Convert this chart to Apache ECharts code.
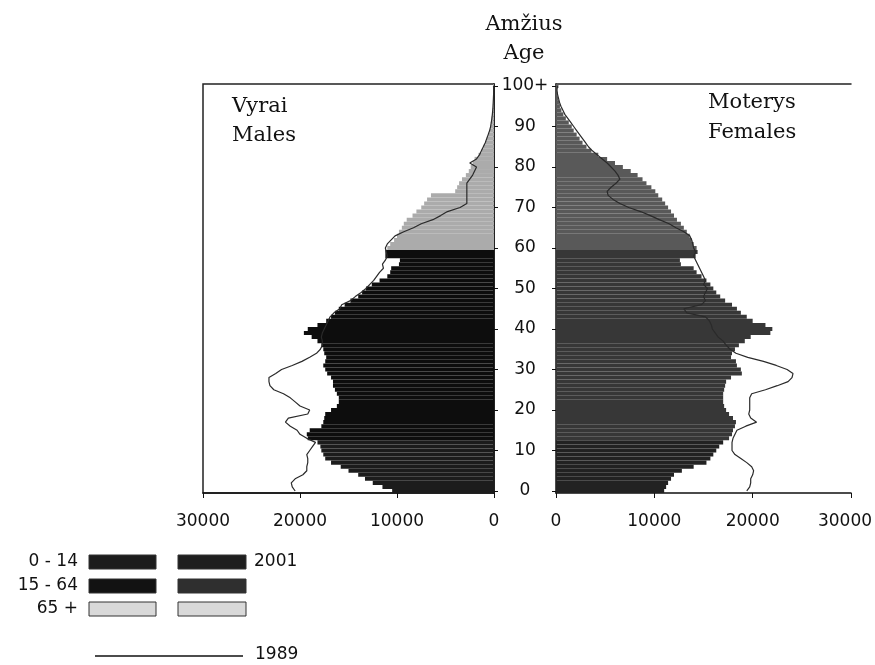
<!DOCTYPE html>
<html>
<head>
<meta charset="utf-8">
<script src="https://cdn.jsdelivr.net/npm/echarts@6/dist/echarts.min.js"></script>
<style>
html,body{margin:0;padding:0;background:#fff;}
#chart{width:875px;height:665px;}
</style>
</head>
<body>
<div id="chart"></div>
<script>
// ---- data ----
const ages = Array.from({length: 101}, (_, i) => i === 100 ? '100+' : String(i));
const tickLabels = ['0','10','20','30','40','50','60','70','80','90','100+'];
const xTicks = [0, 10000, 20000, 30000];
const groupNames = ['0 - 14', '15 - 64', '65 +'];
// first age index of the 2nd and 3rd colour groups as drawn in the picture
const groupStarts = [0, 13, 60];

const male2001 = [
 10500,11500,12500,13300,14000,15000,15800,16800,17400,17600,
 17800,17900,18200,19200,19300,19000,17800,17600,17500,17400,
 16800,16200,16000,16000,16200,16400,16600,16600,16800,17200,
 17400,17600,17400,17300,17500,17600,17800,18200,18800,19600,
 19200,18200,17300,16800,16400,16000,15400,14800,14000,13600,
 13200,12600,11800,11000,10700,10600,9800,9700,11200,11200,
 11000,10700,10300,10000,9800,9500,9300,9000,8400,8000,
 7500,7200,6900,6500,4000,3800,3600,3300,2900,2600,
 2400,2200,2000,1600,1300,1100,900,750,600,450,
 350,300,250,200,160,120,90,70,50,40,
 80
];
const female2001 = [
 11000,11200,11400,11700,12000,12800,14000,15300,15700,16000,
 16300,16600,17000,17600,17900,18000,18200,18300,18000,17600,
 17300,17100,17000,17000,17000,17100,17200,17300,17800,18900,
 18800,18400,18300,17800,17900,18200,18600,19200,19800,21800,
 22000,21300,20000,19400,18800,18400,17900,17200,16700,16300,
 16000,15700,15300,14800,14300,14000,12700,12600,14200,14400,
 14300,14000,13800,13600,13300,13000,12700,12300,12000,11700,
 11400,11100,10800,10400,10100,9700,9200,8800,8300,7600,
 6800,6000,5200,4300,3600,3100,2700,2400,2100,1800,
 1600,1300,1000,750,550,400,300,200,150,100,
 250
];
const male1989 = [
 20500,20800,20900,20500,19700,19300,19300,19200,19200,19300,
 19000,18700,18400,19300,20000,20300,21000,21500,21200,19200,
 19000,20000,20500,21000,21700,22700,23100,23200,23200,22500,
 21900,20800,19800,19000,18300,17900,17700,17700,17800,17700,
 17500,17300,17100,16900,16500,15900,15700,14800,14300,13700,
 13200,12800,12400,12100,11800,11400,11500,11200,11000,11100,
 11200,11000,10600,10200,9300,8300,7500,6300,5500,4800,
 3500,2800,2800,2800,2800,2800,2800,2500,2200,2000,
 1800,2500,1800,1500,1300,1100,900,750,600,450,
 350,280,220,170,130,100,80,60,40,30,
 50
];
const female1989 = [
 19400,19700,19800,19800,20000,20100,19900,19400,18800,18200,
 17900,17900,17900,18000,18200,18400,19300,20400,19800,19600,
 19700,19700,19700,19700,19900,21300,22500,23600,24000,24100,
 23500,22400,21100,19500,18300,17700,17300,17000,16500,16200,
 15900,15800,15600,15200,13300,13000,14800,15200,15000,15200,
 15400,15000,15200,15000,14800,14600,14400,14200,14000,14200,
 14000,13900,13800,13600,13000,12200,11500,10500,9600,8600,
 7400,6500,5800,5300,5200,5600,6100,6500,6300,6000,
 5600,5200,4700,4200,3700,3300,3000,2700,2400,2100,
 1800,1500,1200,900,700,500,350,250,150,100,
 150
];

// ---- styles ----
const maleColors = ['#1c1c1c', '#0d0d0d', '#ababab'];
const femaleColors = ['#222222', '#373737', '#595959'];
const legendMale = ['#1c1c1c', '#121212', '#d9d9d9'];
const legendFemale = ['#1e1e1e', '#2f2f2f', '#d9d9d9'];
const sans = 'DejaVu Sans';
const serif = 'DejaVu Serif';

function groupOf(i) {
  let g = 0;
  for (let k = 0; k < groupStarts.length; k++) if (i >= groupStarts[k]) g = k;
  return g;
}
function part(arr, g) {
  return arr.map((v, i) => groupOf(i) === g ? v : '-');
}
const isTick = (i) => i % 10 === 0;

const chart = echarts.init(document.getElementById('chart'), null, {renderer: 'canvas'});

const series = [];
for (let g = 0; g < 3; g++) {
  series.push({
    type: 'bar', name: 'm' + g, xAxisIndex: 0, yAxisIndex: 0, stack: 'male',
    barCategoryGap: '0%', data: part(male2001, g),
    itemStyle: {color: maleColors[g]}, silent: true, animation: false
  });
  series.push({
    type: 'bar', name: 'f' + g, xAxisIndex: 1, yAxisIndex: 1, stack: 'female',
    barCategoryGap: '0%', data: part(female2001, g),
    itemStyle: {color: femaleColors[g]}, silent: true, animation: false
  });
}
series.push({
  type: 'line', name: 'm1989', xAxisIndex: 0, yAxisIndex: 0, data: male1989,
  symbol: 'none', lineStyle: {color: '#2a2a2a', width: 1.2}, z: 5, animation: false
});
series.push({
  type: 'line', name: 'f1989', xAxisIndex: 1, yAxisIndex: 1, data: female1989,
  symbol: 'none', lineStyle: {color: '#2a2a2a', width: 1.2}, z: 5, animation: false
});

const labelRich = {e: {fontFamily: sans, fontSize: 17, color: '#111', padding: [0, 12, 0, 0]}};
const xAxisBase = {
  type: 'value', min: 0, max: 30000, interval: 10000,
  axisLine: {show: true, lineStyle: {color: '#111', width: 1.5}},
  axisTick: {show: true, length: 5, lineStyle: {color: '#111'}},
  splitLine: {show: false}
};

const option = {
  backgroundColor: '#fff',
  animation: false,
  grid: [
    {left: 203, right: 381, top: 84, bottom: 172, outerBoundsMode: 'none', containLabel: false,
     show: true, borderColor: '#222', borderWidth: 1.5, backgroundColor: 'transparent'},
    {left: 556, right: 24, top: 84, bottom: 172, outerBoundsMode: 'none', containLabel: false}
  ],
  xAxis: [
    Object.assign({}, xAxisBase, {gridIndex: 0, inverse: true, position: 'bottom',
      axisLabel: {fontFamily: sans, fontSize: 17, color: '#111', margin: 20,
                  formatter: (v) => xTicks.includes(v) ? String(v) : ''}}),
    Object.assign({}, xAxisBase, {gridIndex: 1, position: 'bottom',
      axisLabel: {fontFamily: sans, fontSize: 17, color: '#111', margin: 20, rich: labelRich,
                  formatter: (v) => !xTicks.includes(v) ? '' : (v === xTicks[xTicks.length - 1] ? '{e|' + v + '}' : String(v))}}),
    {type: 'value', gridIndex: 1, position: 'top', min: 0, max: 30000,
     axisLine: {show: true, lineStyle: {color: '#222', width: 1.5}},
     axisTick: {show: false}, axisLabel: {show: false}, splitLine: {show: false}}
  ],
  yAxis: [
    {type: 'category', gridIndex: 0, data: ages, position: 'right',
     axisLine: {show: true, lineStyle: {color: '#111', width: 1.5}},
     axisTick: {show: true, interval: (i) => isTick(i), alignWithLabel: true, length: 4, lineStyle: {color: '#111'}},
     axisLabel: {show: true, interval: (i) => isTick(i), align: 'center', margin: 31,
                 fontFamily: sans, fontSize: 17, color: '#111',
                 formatter: (v, i) => tickLabels.includes(v) ? v : ''},
     splitLine: {show: false}},
    {type: 'category', gridIndex: 1, data: ages, position: 'left',
     axisLine: {show: true, lineStyle: {color: '#111', width: 1.5}},
     axisTick: {show: true, interval: (i) => isTick(i), alignWithLabel: true, length: 4, lineStyle: {color: '#111'}},
     axisLabel: {show: false}, splitLine: {show: false}}
  ],
  series: series,
  graphic: []
};

const g = option.graphic;
const txt = (x, y, s, font, size, align) => ({
  type: 'text', x: x, y: y, silent: true,
  style: {text: s, font: size + 'px "' + font + '"', fill: '#111', textAlign: align || 'left', textVerticalAlign: 'middle'}
});
g.push(txt(524, 25, 'Amžius', serif, 21, 'center'));
g.push(txt(524, 54, 'Age', serif, 21, 'center'));
g.push(txt(232, 107, 'Vyrai', serif, 21));
g.push(txt(232, 136, 'Males', serif, 21));
g.push(txt(708, 103, 'Moterys', serif, 21));
g.push(txt(708, 133, 'Females', serif, 21));

// legend
const rowY = [562, 586, 609];
for (let r = 0; r < 3; r++) {
  g.push(txt(78, rowY[r], groupNames[r], sans, 17, 'right'));
  g.push({type: 'rect', silent: true, shape: {x: 89, y: rowY[r] - 7, width: 67, height: 14},
          style: {fill: legendMale[r], stroke: '#333', lineWidth: 1}});
  g.push({type: 'rect', silent: true, shape: {x: 178, y: rowY[r] - 7, width: 68, height: 14},
          style: {fill: legendFemale[r], stroke: '#333', lineWidth: 1}});
}
g.push(txt(254, rowY[0], '2001', sans, 17));
g.push({type: 'line', silent: true, shape: {x1: 95, y1: 656, x2: 243, y2: 656}, style: {stroke: '#111', lineWidth: 1.5}});
g.push(txt(255, 655, '1989', sans, 17));

chart.setOption(option);
</script>
</body>
</html>
